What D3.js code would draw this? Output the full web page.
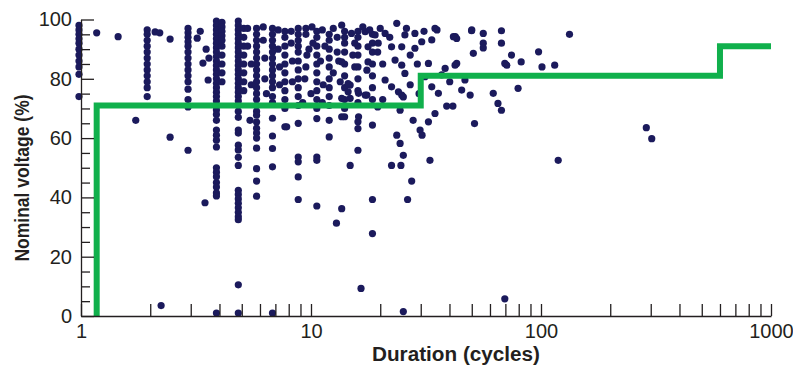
<!DOCTYPE html>
<html>
<head>
<meta charset="utf-8">
<script src="https://cdn.jsdelivr.net/npm/d3@7/dist/d3.min.js"></script>
<style>
  html, body { margin: 0; padding: 0; background: #fff; }
  svg { display: block; }
</style>
</head>
<body>
<div id="chart"></div>
<script>
// Events grouped in vertical columns (same duration, many voltages)
const columnDurations = [0.98, 1.94, 2.92, 3.88, 4.1, 4.83, 5.1, 5.8, 6.8, 7.7, 8.8, 10.6, 12, 14, 16, 18.5];
const columnVoltages = [
  [98, 96.5, 95, 93.5, 92, 90, 88, 86, 84, 81.5, 74],
  [96.5, 95, 93, 91, 89, 87, 85, 83, 81, 79, 77, 74],
  [97, 95.5, 94, 92.5, 91, 89, 87, 85, 83, 81, 79, 76.5, 73, 70.5],
  [99.5, 98, 96.5, 95, 93.5, 92, 90.5, 89, 87.5, 86, 84.5, 83, 81.5, 80, 78.5, 77, 75.5, 74, 72.5, 71, 69.5, 68, 66, 62.7, 61, 59.3, 57, 50, 48.5, 47, 45, 43.5, 41.5, 40.5, 1],
  [99, 97.5, 96, 94.5, 93, 91, 88, 85, 82, 79],
  [99.5, 98, 96.5, 95, 93.5, 92, 90.5, 89, 87.5, 86, 84.5, 83, 81.5, 80, 78.5, 77, 75.5, 74, 72.5, 71, 69, 67, 62.7, 61.7, 57.6, 56, 53.5, 50.8, 42.4, 41, 39.5, 38, 36.5, 35, 33.5, 32.5, 10.5, 1],
  [97, 94, 91, 88, 85, 82, 79, 76],
  [97, 95, 93, 91, 89, 87, 85, 83, 81, 79, 77, 75, 73, 71, 69, 67.7, 65.4, 63.3, 61.7, 60, 56.6, 49.7, 45.5, 40.4],
  [97, 95, 93, 91, 89, 87, 85, 83, 81, 79, 77, 74, 72, 66.7, 60.7, 56.5, 50.3, 1],
  [96, 94, 91, 88, 85, 82, 79, 76, 73, 70, 63.8],
  [97, 95, 93, 91, 89, 86, 83, 80, 77, 74, 71, 65, 53.6, 52, 46.9, 39.3],
  [96, 94, 91, 88, 85, 82, 79, 76, 73, 70, 66.6, 53.6, 52.5, 37.1],
  [95, 93, 90, 87, 84, 80, 77, 74, 71, 66, 60.4],
  [96, 94, 92, 89, 85, 81, 77, 73, 70, 67.2],
  [96, 94, 91, 88, 84, 80, 76, 72, 65.5, 63.2, 55.9],
  [95, 92, 89, 85, 81, 77, 73, 64.4, 39.3, 27.8]
];

// Other events: [duration (cycles), voltage (%)]
const scatterEvents = [
  [1.17, 95.5], [1.45, 94.2], [2.1, 95.8], [2.2, 95.5], [1.73, 66], [2.44, 93.4], [2.44, 60.3],
  [2.92, 55.9], [3.2, 93.7], [3.39, 85.3], [3.57, 79.6], [3.46, 38.2], [2.23, 3.5], [3.3, 96],
  [3.5, 90], [3.6, 87], [5.43, 66], [7.84, 63.8], [6.2, 93], [6.3, 87], [8.2, 96], [9.5, 95],
  [9.8, 90], [11.2, 96.5], [11.5, 91], [13, 94], [13, 89], [12.5, 82], [11.3, 78], [9.5, 84],
  [10, 75], [9.2, 72],
  [12.9, 31.3], [13.6, 36.2], [14.8, 50.8], [16.5, 9.3], [22.4, 50.8], [24.6, 50.8], [27.4, 45.5],
  [26.3, 39.3], [25.2, 1.5], [23.6, 61], [24.4, 58.2], [25.2, 54.2], [27.8, 66], [29.8, 62.7],
  [30.4, 61], [32.4, 65.5], [32.9, 52.5], [35.8, 75.1], [38.9, 70.8], [41.4, 70.8], [40.1, 79],
  [45.2, 76.2], [49.2, 74.5], [51.4, 64.9], [62, 75.1], [65, 71.7], [67.3, 69.4], [79.5, 76.8],
  [118.8, 52.5], [287, 63.5], [303, 59.8], [69.6, 5.8], [24.8, 74.5], [24.4, 69.4], [16.1, 75.1],
  [17.5, 74.5], [14.8, 77.9],
  [101, 84], [114.7, 84.6], [69.6, 85.2], [82, 85.7], [49.9, 96.2], [56.1, 95.3], [67.3, 96.2],
  [42.4, 94.2], [56.1, 92], [56.1, 90.4], [50.8, 88.6], [67.3, 92], [74.4, 88], [97.6, 89.1],
  [133, 95], [71, 84.6], [43, 85.2], [38.3, 83.5], [35.3, 96.5], [43, 93.6],
  [13.6, 98.1], [15.0, 95.3], [17.2, 95.9], [19.0, 94.8], [21.0, 95.3], [23.6, 98.7], [25.6, 94.8],
  [28.3, 95.3], [30.3, 92.5], [34.6, 97.0], [33.5, 93.1], [41.6, 94.2], [50.0, 96.5],
  [15.5, 92.0], [17.7, 90.8], [19.6, 92.0], [22.4, 90.8], [24.8, 90.8], [28.3, 90.3], [13.6, 85.7],
  [17.7, 85.7], [17.5, 82.9], [23.2, 86.3], [24.8, 84.6], [25.6, 81.8], [21.0, 79.6], [22.4, 77.3],
  [24.0, 75.6], [25.2, 73.9], [14.5, 78.4], [14.5, 75.6], [14.8, 73.4], [17.2, 74.5], [13.6, 73.4],
  [32.4, 85.2], [31.3, 80.7], [33.5, 77.3], [42.3, 84.6], [46.7, 79.6], [37.0, 81.3], [34.6, 68.3],
  [13.6, 67.2], [16.1, 67.2],
  [5.3, 97], [5.3, 91], [5.5, 85], [5.5, 78], [6.2, 97.5], [6.3, 80], [6.4, 75], [7.2, 96.5],
  [7.2, 90], [7.3, 84], [7.3, 78], [8.2, 92], [8.3, 86], [8.3, 79], [9.5, 97], [9.6, 88],
  [9.4, 80], [10.1, 97.5], [10.2, 92], [11, 86], [11.2, 72], [12.5, 97], [13.2, 86], [13.4, 79],
  [15.2, 88], [15.5, 84], [16.8, 97.5], [18, 96.5], [19.5, 89], [20.5, 85], [20, 97], [22, 94],
  [26, 97], [27, 88], [29, 85], [31, 96], [27, 78], [29.5, 75], [20.5, 73], [19.5, 70.5]
];

// Tolerance curve (step line)
const curveDurations = [1.17, 1.17, 30, 30, 600, 600, 1000];
const curveVoltages = [0, 71, 71, 81, 81, 91, 91];

const yMajorTicks = [0, 20, 40, 60, 80, 100];
const yMinorTicks = [5, 10, 15, 25, 30, 35, 45, 50, 55, 65, 70, 75, 85, 90, 95];
const xTicks = [1, 2, 3, 4, 5, 6, 7, 8, 9, 10, 20, 30, 40, 50, 60, 70, 80, 90, 100,
  200, 300, 400, 500, 600, 700, 800, 900, 1000];
const xTickLabels = [1, 10, 100, 1000];

const width = 793, height = 371;
const ink = '#231f20';

const svg = d3.select('#chart').append('svg')
  .attr('width', width)
  .attr('height', height);

const x = d3.scaleLog().domain([1, 1000]).range([81, 771]);
const y = d3.scaleLinear().domain([0, 100]).range([316, 19.5]);

// points
const points = [];
columnDurations.forEach((d, i) => columnVoltages[i].forEach(v => points.push([d, v])));
scatterEvents.forEach(p => points.push(p));

svg.append('g')
  .selectAll('circle')
  .data(points)
  .enter()
  .append('circle')
  .attr('cx', d => x(d[0]))
  .attr('cy', d => y(d[1]))
  .attr('r', 3.6)
  .attr('fill', '#1b1a5c');

// green step curve
const line = d3.line()
  .x(d => x(d[0]))
  .y(d => y(d[1]));

svg.append('path')
  .datum(curveDurations.map((d, i) => [d, curveVoltages[i]]))
  .attr('d', line)
  .attr('fill', 'none')
  .attr('stroke', '#10b04c')
  .attr('stroke-width', 6)
  .attr('stroke-linejoin', 'miter');

// y axis
svg.append('g')
  .attr('transform', `translate(${x(1)},0)`)
  .call(d3.axisLeft(y).tickValues(yMajorTicks).tickSize(-13).tickSizeOuter(0).tickPadding(9));

svg.append('g')
  .attr('transform', `translate(${x(1)},0)`)
  .call(d3.axisLeft(y).tickValues(yMinorTicks).tickSize(-9).tickFormat(''))
  .call(g => g.select('.domain').remove());

// x axis
svg.append('g')
  .attr('transform', `translate(0,${y(0)})`)
  .call(d3.axisBottom(x).tickValues(xTicks).tickSize(-12).tickSizeOuter(0).tickPadding(8)
    .tickFormat(d => xTickLabels.includes(d) ? String(d) : ''));

svg.selectAll('.domain, .tick line')
  .attr('stroke', ink)
  .attr('stroke-width', 1.3);

svg.selectAll('.tick text')
  .attr('fill', ink)
  .style('font-family', '"Liberation Sans", Arial, sans-serif')
  .style('font-size', '20px');

// axis titles
svg.append('text')
  .attr('transform', 'translate(29,178) rotate(-90)')
  .attr('text-anchor', 'middle')
  .attr('textLength', 167)
  .attr('lengthAdjust', 'spacingAndGlyphs')
  .attr('fill', ink)
  .style('font-family', '"Liberation Sans Narrow", "Liberation Sans", Arial, sans-serif')
  .style('font-weight', 'bold')
  .style('font-size', '20px')
  .text('Nominal voltage (%)');

svg.append('text')
  .attr('x', 456)
  .attr('y', 361)
  .attr('text-anchor', 'middle')
  .attr('textLength', 168)
  .attr('lengthAdjust', 'spacingAndGlyphs')
  .attr('fill', ink)
  .style('font-family', '"Liberation Sans Narrow", "Liberation Sans", Arial, sans-serif')
  .style('font-weight', 'bold')
  .style('font-size', '20px')
  .text('Duration (cycles)');
</script>
</body>
</html>
